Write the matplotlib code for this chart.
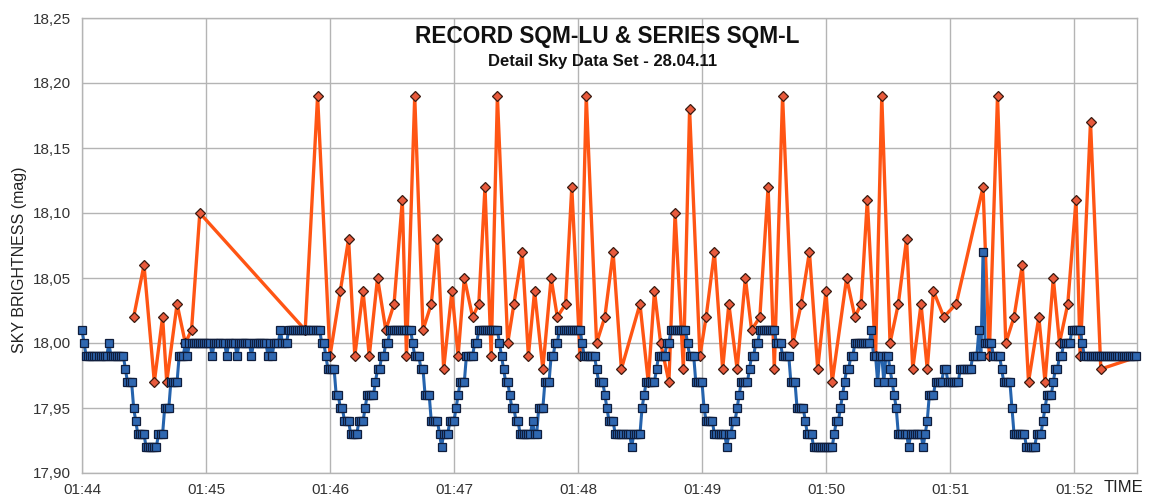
import numpy as np
import matplotlib.pyplot as plt
from matplotlib.ticker import FuncFormatter

# SQM-L series (orange diamonds): seconds after 01:44:00, brightness in mag
sqml_sec = [25, 30, 35, 39, 41, 46, 50, 53, 57, 108, 114, 120, 125, 129, 132, 136, 139,
            143, 147, 151, 155, 157, 161, 165, 169, 172, 175, 179, 182, 185, 189, 192,
            195, 198, 201, 206, 209, 213, 216, 219, 223, 227, 230, 234, 237, 241, 244,
            249, 253, 257, 261, 270, 274, 277, 280, 284, 287, 291, 294, 299, 302, 306,
            310, 313, 317, 321, 324, 328, 332, 335, 339, 344, 348, 352, 356, 360, 363,
            370, 374, 377, 380, 384, 387, 391, 395, 399, 402, 406, 409, 412, 417, 423,
            436, 439, 443, 447, 451, 455, 458, 463, 466, 470, 473, 477, 481, 483, 488,
            493, 512]
sqml_mag = [18.02, 18.06, 17.97, 18.02, 17.97, 18.03, 18.00, 18.01, 18.10, 18.01, 18.19,
            17.99, 18.04, 18.08, 17.99, 18.04, 17.99, 18.05, 18.01, 18.03, 18.11, 17.99,
            18.19, 18.01, 18.03, 18.08, 17.98, 18.04, 17.99, 18.05, 18.02, 18.03, 18.12,
            17.99, 18.19, 18.00, 18.03, 18.07, 17.99, 18.04, 17.98, 18.05, 18.02, 18.03,
            18.12, 17.99, 18.19, 18.00, 18.02, 18.07, 17.98, 18.03, 17.97, 18.04, 18.00,
            17.97, 18.10, 17.98, 18.18, 17.99, 18.02, 18.07, 17.98, 18.03, 17.98, 18.05,
            18.01, 18.02, 18.12, 17.98, 18.19, 18.00, 18.03, 18.07, 17.98, 18.04, 17.97,
            18.05, 18.02, 18.03, 18.11, 17.99, 18.19, 18.00, 18.03, 18.08, 17.98, 18.03,
            17.98, 18.04, 18.02, 18.03, 18.12, 17.99, 18.19, 18.00, 18.02, 18.06, 17.97,
            18.02, 17.97, 18.05, 18.00, 18.03, 18.11, 17.99, 18.17, 17.98, 17.99]

# SQM-LU record (blue squares), one reading per second:
# second where a level starts, and the level held until the next start
sqmlu_start = [0, 1, 2, 13, 14, 21, 22, 25, 26, 27, 31, 37, 40, 43, 47, 50, 51, 52, 63, 64,
               70, 71, 75, 76, 82, 83, 90, 91, 92, 93, 96, 97, 100, 116, 118, 119, 123, 125,
               127, 130, 134, 137, 138, 142, 143, 145, 147, 149, 160, 161, 164, 166, 169,
               173, 174, 175, 178, 181, 182, 183, 186, 190, 192, 202, 203, 204, 205, 207,
               208, 210, 212, 218, 219, 221, 224, 227, 229, 231, 242, 243, 249, 250, 253,
               254, 255, 258, 266, 267, 271, 272, 273, 278, 279, 283, 285, 293, 294, 297,
               301, 302, 306, 312, 313, 315, 317, 318, 319, 323, 324, 326, 328, 336, 339,
               343, 346, 350, 351, 354, 364, 365, 367, 368, 369, 370, 372, 374, 382, 383,
               385, 386, 388, 389, 391, 392, 393, 394, 395, 400, 401, 407, 408, 409, 410,
               413, 417, 419, 425, 431, 434, 435, 436, 437, 441, 445, 446, 450, 451, 457,
               462, 465, 466, 467, 470, 471, 473, 475, 479, 484, 485]
sqmlu_level = [18.01, 18.00, 17.99, 18.00, 17.99, 17.98, 17.97, 17.95, 17.94, 17.93, 17.92,
               17.93, 17.95, 17.97, 17.99, 18.00, 17.99, 18.00, 17.99, 18.00, 17.99, 18.00,
               17.99, 18.00, 17.99, 18.00, 17.99, 18.00, 17.99, 18.00, 18.01, 18.00, 18.01,
               18.00, 17.99, 17.98, 17.96, 17.95, 17.94, 17.93, 17.94, 17.95, 17.96, 17.97,
               17.98, 17.99, 18.00, 18.01, 18.00, 17.99, 17.98, 17.96, 17.94, 17.93, 17.92,
               17.93, 17.94, 17.95, 17.96, 17.97, 17.99, 18.00, 18.01, 18.00, 17.99, 17.98,
               17.97, 17.96, 17.95, 17.94, 17.93, 17.94, 17.93, 17.95, 17.97, 17.99, 18.00,
               18.01, 18.00, 17.99, 17.98, 17.97, 17.96, 17.95, 17.94, 17.93, 17.92, 17.93,
               17.95, 17.96, 17.97, 17.98, 17.99, 18.00, 18.01, 18.00, 17.99, 17.97, 17.95,
               17.94, 17.93, 17.92, 17.93, 17.94, 17.95, 17.96, 17.97, 17.98, 17.99, 18.00,
               18.01, 18.00, 17.99, 17.97, 17.95, 17.94, 17.93, 17.92, 17.93, 17.94, 17.95,
               17.96, 17.97, 17.98, 17.99, 18.00, 18.01, 17.99, 17.97, 17.99, 17.97, 17.99,
               17.98, 17.97, 17.96, 17.95, 17.93, 17.92, 17.93, 17.92, 17.93, 17.94, 17.96,
               17.97, 17.98, 17.97, 17.98, 17.99, 18.01, 17.99, 18.07, 18.00, 17.99, 17.98,
               17.97, 17.95, 17.93, 17.92, 17.93, 17.94, 17.95, 17.96, 17.97, 17.98, 17.99,
               18.00, 18.01, 18.00, 17.99]
sqmlu_end = 511

tick_sec = [0, 60, 120, 180, 240, 300, 360, 420, 480]
tick_labels = ['01:44', '01:45', '01:46', '01:47', '01:48', '01:49', '01:50', '01:51', '01:52']

# expand the blue record to one value per second
counts = np.diff(sqmlu_start + [sqmlu_end])
lu_mag = np.repeat(sqmlu_level, counts)
lu_sec = np.arange(len(lu_mag))

plt.rcParams['font.family'] = ['Liberation Sans', 'DejaVu Sans']

fig = plt.figure(figsize=(11.52, 5.01), dpi=100)
ax = fig.add_axes([82 / 1152, 1 - 473 / 501, (1137 - 82) / 1152, (473 - 18) / 501])

ax.plot(sqml_sec, sqml_mag, color='#ff5514', lw=2.4, marker='D', ms=4.8,
        mfc='#e85a3c', mec='#3a1a10', mew=0.9, zorder=3)
ax.plot(lu_sec, lu_mag, color='#2563ad', lw=2.2, marker='s', ms=5.8,
        mfc='#2f67b0', mec='#0f1d3c', mew=0.9, zorder=4, clip_on=False)

ax.set_xlim(0, 510.5)
ax.set_ylim(17.90, 18.25)
ax.set_xticks(tick_sec)
ax.set_xticklabels(tick_labels)
ax.set_yticks(np.arange(17.90, 18.251, 0.05))
ax.yaxis.set_major_formatter(FuncFormatter(lambda v, p: '{:.2f}'.format(v).replace('.', ',')))
ax.tick_params(length=0, labelsize=11, colors='#333333')
ax.tick_params(axis='x', pad=7)
ax.tick_params(axis='y', pad=8)
ax.grid(True, color='#b4b4b4', lw=1)
ax.set_axisbelow(True)
for s in ax.spines.values():
    s.set_color('#b4b4b4')
    s.set_linewidth(1)

fig.text(20 / 1152, 1 - 260 / 501, 'SKY BRIGHTNESS (mag)', rotation=90,
         ha='center', va='center', fontsize=11.5, color='#222222')
fig.text(1124 / 1152, 1 - 488 / 501, 'TIME', ha='center', va='center',
         fontsize=12, color='#222222')
fig.text(607 / 1152, 1 - 37 / 501, 'RECORD SQM-LU & SERIES SQM-L', ha='center', va='center',
         fontsize=16.3, fontweight='bold', color='#111111')
fig.text(603 / 1152, 1 - 62 / 501, 'Detail Sky Data Set - 28.04.11', ha='center', va='center',
         fontsize=12, fontweight='bold', color='#111111')

fig.savefig('out.png', dpi=100)
